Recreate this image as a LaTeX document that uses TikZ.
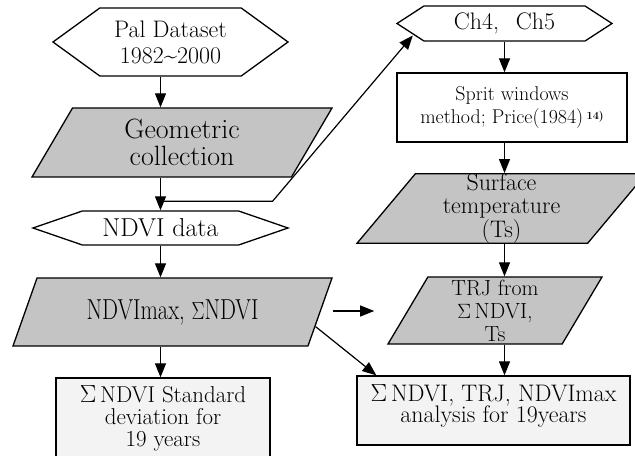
\documentclass[tikz,border=0pt]{standalone}
\usepackage{tikz}
\usepackage{xcolor}
\usepackage{graphicx}
\usetikzlibrary{shapes.geometric}
\usetikzlibrary{shapes.symbols}
\usetikzlibrary{arrows.meta}
\usetikzlibrary{calc}
\definecolor{lineColor}{HTML}{000000}
\definecolor{hexFillColor}{HTML}{FFFFFF}
\definecolor{paraFillColor}{HTML}{C4C4C4}
\definecolor{boxFillColor}{HTML}{F3F3F3}
\def\textPal{Pal Dataset\\1982\textasciitilde2000}
\def\textGeo{Geometric\\collection}
\def\textNdvi{NDVI data}
\def\textMax{\scalebox{0.78}[1]{NDVImax, $\Sigma$NDVI}}
\def\textStd{$\Sigma$\,NDVI Standard\\deviation for\\19 years}
\def\textChan{Ch4,\hspace{0.7em}Ch5}
\def\textSprit{Sprit windows\\method; Price(1984)\,\raisebox{4bp}{\fontsize{11}{11}\selectfont\bfseries 14)}}
\def\textSurf{Surface\\temperature\\(Ts)}
\def\textTrj{TRJ from\\$\Sigma$\,NDVI,\\Ts}
\def\textAna{$\Sigma$\,NDVI, TRJ, NDVImax\\analysis for 19years\\[-8bp]\mbox{}}

\tikzset{
hexa/.style={shape=signal, signal to=east and west, draw=lineColor,
fill=hexFillColor, line width=1.3bp, inner sep=0pt, align=center},
para/.style={shape=trapezium, trapezium stretches body, draw=lineColor,
fill=paraFillColor, line width=1.3bp, inner sep=0pt, align=center},
plainbox/.style={shape=rectangle, draw=lineColor, line width=1.3bp,
inner sep=0pt, align=center},
link/.style={draw=lineColor, line width=1.2bp, -{Triangle[length=14bp,width=11bp]}}
}

\begin{document}
\begin{tikzpicture}[x=1bp,y=-1bp]

% page
\clip (0, 0) rectangle (635, 456);

% left column
\begin{scope}
\node[hexa, signal pointer angle=72, minimum width=235bp, minimum height=68bp,
font=\fontsize{24}{26}\selectfont] (pal) at (170.5, 42) {\textPal};
\node[para, trapezium left angle=49, trapezium right angle=131,
minimum width=300bp, minimum height=69bp,
font=\fontsize{28}{27}\selectfont] (geo) at (182, 142.5) {\textGeo};
\node[hexa, signal pointer angle=38, minimum width=255bp, minimum height=34bp,
font=\fontsize{26}{28}\selectfont] (ndvi) at (160.5, 228) {\textNdvi};
\node[para, trapezium left angle=46.5, trapezium right angle=133.5,
minimum width=319bp, minimum height=68bp,
font=\fontsize{29}{30}\selectfont] (ndviMax) at (172.5, 312) {\textMax};
\node[plainbox, fill=boxFillColor, minimum width=214bp, minimum height=80bp,
font=\fontsize{23}{22}\selectfont] (stdDev) at (163, 418) {\textStd};
\end{scope}

% right column
\begin{scope}
\node[hexa, signal pointer angle=66, minimum width=215bp, minimum height=35bp,
font=\fontsize{24}{26}\selectfont] (chan) at (504.5, 23.5) {\textChan};
\node[plainbox, fill=white, minimum width=230bp, minimum height=69bp,
font=\fontsize{20}{24}\selectfont] (sprit) at (512, 107.5) {\textSprit};
\node[para, trapezium left angle=50, trapezium right angle=130,
minimum width=289bp, minimum height=69bp,
font=\fontsize{24}{23.5}\selectfont] (surfTemp) at (501.5, 208.5) {\textSurf};
\node[para, trapezium left angle=57, trapezium right angle=123,
minimum width=214bp, minimum height=67bp,
font=\fontsize{22}{23}\selectfont] (trj) at (495, 310.5) {\textTrj};
\node[plainbox, fill=boxFillColor, minimum width=273bp, minimum height=69bp,
font=\fontsize{24}{22}\selectfont] (analysis) at (493.5, 410.5) {\textAna};
\end{scope}

% link layer
\coordinate (split) at ($(ndvi.north)+(0, -9)$);
\coordinate (bend) at ($(split)+(112, 0)$);
\coordinate (maxRight) at ($(ndviMax.bottom right corner)!0.5!(ndviMax.top right corner)$);
\coordinate (maxLow) at ($(ndviMax.bottom right corner)!0.29!(ndviMax.top right corner)$);
\coordinate (trjLeft) at ($(trj.bottom left corner)!0.5!(trj.top left corner)$);
\begin{scope}
\draw[link] (ndvi.north |- pal.south) -- (ndvi.north |- geo.north);
\draw[link] (ndvi.north |- geo.south) -- (ndvi.north);
\draw[link] (ndvi.south) -- (ndvi.south |- ndviMax.north);
\draw[link] (ndvi.south |- ndviMax.south) -- (ndvi.south |- stdDev.north);
\draw[link] (split) -- (bend) -- ($(chan.west)+(17, 12)$);
\draw[link] (chan.south) -- (chan.south |- sprit.north);
\draw[link] (chan.south |- sprit.south) -- (chan.south |- surfTemp.north);
\draw[link] (chan.south |- surfTemp.south) -- (chan.south |- trj.north);
\draw[link] (chan.south |- trj.south) -- (chan.south |- analysis.north);
\draw[link] ($(maxRight)+(12, -1)$) -- ($(trjLeft |- maxRight)+(-33, -1)$);
\draw[link] (maxLow) -- ($(analysis.north west)+(20, 0)$);
\end{scope}

\end{tikzpicture}
\end{document}
